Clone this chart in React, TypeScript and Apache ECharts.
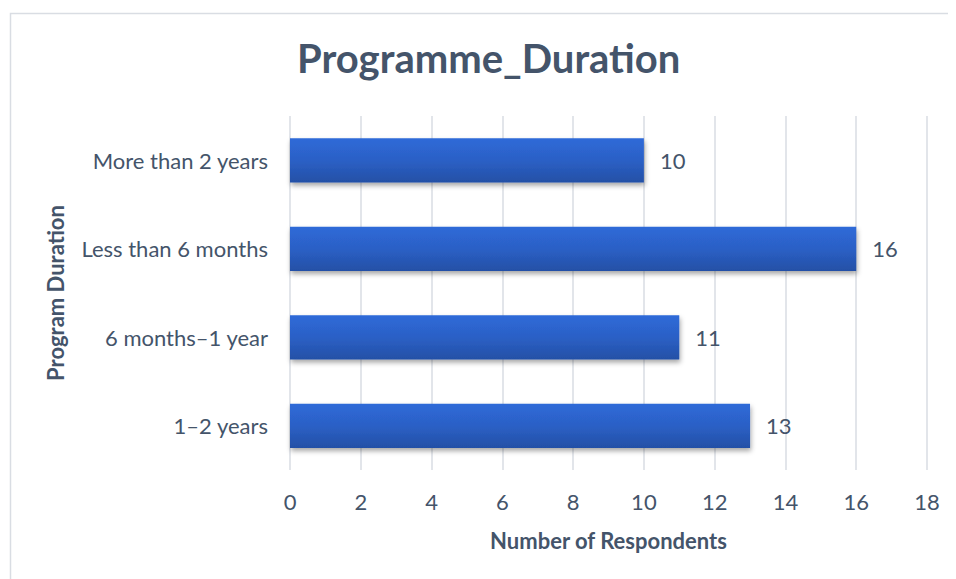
import React, { useEffect, useRef } from "react";
import * as echarts from "echarts";

const categories = ["1–2 years", "6 months–1 year", "Less than 6 months", "More than 2 years"];
const values = [13, 11, 16, 10];
const xTicks = [0, 2, 4, 6, 8, 10, 12, 14, 16, 18];

const FONT = "Lato, 'Open Sans', sans-serif";
const TEXT = "#44546a";

export default function App() {
  const ref = useRef<HTMLDivElement>(null);
  useEffect(() => {
    if (!ref.current) return;
    const chart = echarts.init(ref.current, null, { renderer: "svg" });
    chart.setOption({
      animation: false,
      backgroundColor: "#ffffff",
      graphic: [
        {
          type: "rect",
          left: 0,
          top: 3,
          shape: { x: 0, y: 0, width: 1000, height: 620 },
          style: { fill: "none", stroke: "#d9dde3", lineWidth: 1.5 },
          silent: true,
        },
      ],
      title: {
        text: "Programme_Duration",
        left: 284,
        top: 25,
        textStyle: { fontFamily: FONT, fontSize: 40, fontWeight: "bold", color: TEXT },
      },
      grid: { left: 282, right: 29, top: 108, bottom: 109, containLabel: false },
      xAxis: {
        type: "value",
        min: 0,
        max: 18,
        interval: 2,
        name: "Number of Respondents",
        nameLocation: "middle",
        nameGap: 59,
        nameTextStyle: { fontFamily: FONT, fontSize: 22, fontWeight: "bold", color: TEXT },
        axisLine: { show: false },
        axisTick: { show: false },
        axisLabel: { fontFamily: FONT, fontSize: 22, color: TEXT, margin: 20, formatter: (v: number) => (xTicks.includes(v) ? String(v) : "") },
        splitLine: { show: true, lineStyle: { color: "#d9dde3", width: 1.5 } },
      },
      yAxis: {
        type: "category",
        data: categories,
        name: "Program Duration",
        nameLocation: "middle",
        nameGap: 224,
        nameTextStyle: { fontFamily: FONT, fontSize: 22, fontWeight: "bold", color: TEXT },
        axisLine: { show: false },
        axisTick: { show: false },
        axisLabel: { fontFamily: FONT, fontSize: 22, color: TEXT, margin: 22 },
      },
      series: [
        {
          type: "bar",
          data: values,
          barWidth: "50%",
          itemStyle: {
            color: new echarts.graphic.LinearGradient(0, 0, 0, 1, [
              { offset: 0, color: "#2f6ad8" },
              { offset: 0.5, color: "#2b60c6" },
              { offset: 1, color: "#2450a6" },
            ]),
            shadowColor: "rgba(0,0,0,0.35)",
            shadowBlur: 5,
            shadowOffsetX: 1,
            shadowOffsetY: 3,
          },
          label: {
            show: true,
            position: "right",
            distance: 16,
            fontFamily: FONT,
            fontSize: 22,
            color: TEXT,
          },
        },
      ],
    });
    return () => chart.dispose();
  }, []);
  return <div ref={ref} style={{ width: 948, height: 571 }} />;
}
